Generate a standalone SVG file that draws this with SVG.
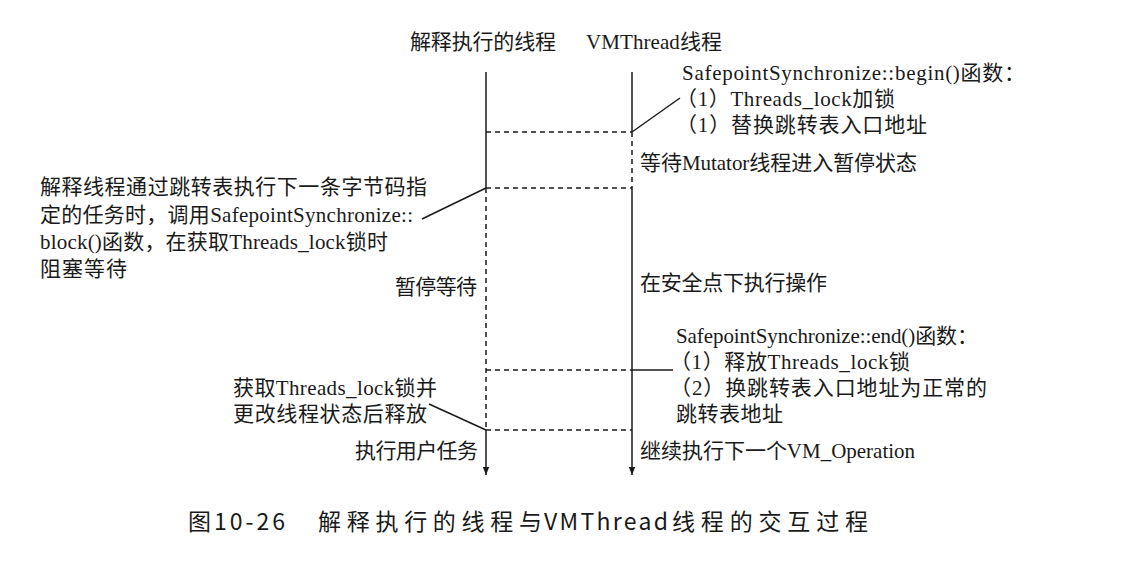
<svg xmlns="http://www.w3.org/2000/svg" width="1123" height="567" viewBox="0 0 1123 567">
<style>
text{font-family:"Liberation Serif","Noto Sans CJK SC",serif;font-size:21px;fill:#1a1a1a}
.cap{font-family:"Noto Sans CJK SC",sans-serif;font-size:23px}
.s{stroke:#1a1a1a;stroke-width:1.5;fill:none}
.d{stroke:#1a1a1a;stroke-width:1.5;fill:none;stroke-dasharray:5 4}
</style>
<defs>
<marker id="arr" viewBox="0 0 10 10" refX="10" refY="5" markerWidth="8" markerHeight="8" markerUnits="userSpaceOnUse" orient="auto">
<path d="M0,1 L10,5 L0,9 z" fill="#1a1a1a"/>
</marker>
</defs>
<rect width="1123" height="567" fill="#fff"/>
<g id="connectors">
<line class="s" x1="486" y1="72" x2="486" y2="188"/>
<line class="d" x1="486" y1="188" x2="486" y2="430"/>
<line class="s" x1="486" y1="430" x2="486" y2="475" marker-end="url(#arr)"/>
<line class="s" x1="632" y1="72" x2="632" y2="132"/>
<line class="d" x1="632" y1="132" x2="632" y2="188"/>
<line class="s" x1="632" y1="188" x2="632" y2="475" marker-end="url(#arr)"/>
<line class="d" x1="486" y1="132" x2="632" y2="132"/>
<line class="d" x1="486" y1="188" x2="632" y2="188"/>
<line class="d" x1="486" y1="370" x2="632" y2="370"/>
<line class="d" x1="486" y1="430" x2="632" y2="430"/>
<line class="s" x1="632" y1="132" x2="680" y2="98"/>
<line class="s" x1="486" y1="188" x2="422" y2="219"/>
<line class="s" x1="632" y1="370" x2="673" y2="370"/>
<line class="s" x1="486" y1="430" x2="429" y2="404"/>
</g>
<g id="title">
<text x="410" y="49" textLength="146">解释执行的线程</text>
<text x="586" y="49" textLength="136">VMThread线程</text>
</g>
<g id="begin-note">
<text x="682" y="80" textLength="343">SafepointSynchronize::begin()函数：</text>
<text x="676" y="106" textLength="219">（1）Threads_lock加锁</text>
<text x="676" y="132" textLength="251">（1）替换跳转表入口地址</text>
</g>
<g id="wait-mutator">
<text x="640" y="170" textLength="277">等待Mutator线程进入暂停状态</text>
</g>
<g id="block-note">
<text x="40" y="194" textLength="387">解释线程通过跳转表执行下一条字节码指</text>
<text x="40" y="222" textLength="373">定的任务时，调用SafepointSynchronize::</text>
<text x="40" y="249" textLength="348">block()函数，在获取Threads_lock锁时</text>
<text x="40" y="276" textLength="87">阻塞等待</text>
</g>
<g id="pause-wait">
<text x="395" y="294" textLength="82">暂停等待</text>
</g>
<g id="safepoint-op">
<text x="640" y="290" textLength="187">在安全点下执行操作</text>
</g>
<g id="end-note">
<text x="676" y="343" textLength="302">SafepointSynchronize::end()函数：</text>
<text x="670" y="369" textLength="240">（1）释放Threads_lock锁</text>
<text x="670" y="395" textLength="317">（2）换跳转表入口地址为正常的</text>
<text x="676" y="421" textLength="107">跳转表地址</text>
</g>
<g id="release-note">
<text x="233" y="395" textLength="204">获取Threads_lock锁并</text>
<text x="233" y="421" textLength="194">更改线程状态后释放</text>
</g>
<g id="user-task">
<text x="355" y="458" textLength="123">执行用户任务</text>
</g>
<g id="next-op">
<text x="640" y="458" textLength="275">继续执行下一个VM_Operation</text>
</g>
<g id="caption">
<text class="cap" x="188" y="530" textLength="97">图10-26</text>
<text class="cap" x="318" y="530" textLength="224">解释执行的线程与</text>
<text class="cap" x="544" y="530" textLength="124">VMThread</text>
<text class="cap" x="672" y="530" textLength="196">线程的交互过程</text>
</g>
</svg>
